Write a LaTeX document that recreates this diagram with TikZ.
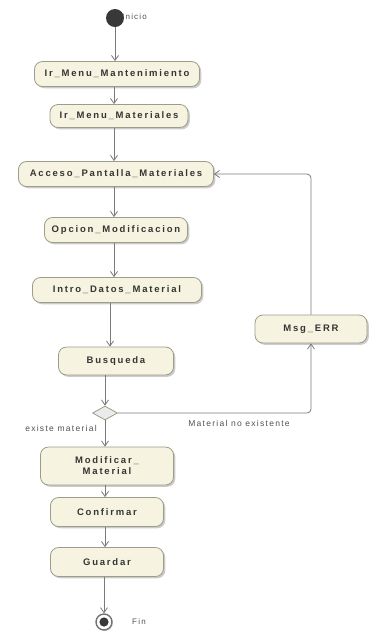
\documentclass[tikz,border=0pt]{standalone}
\usepackage{fontspec}
\setmainfont{Liberation Sans}
\newfontfamily\actfont[LetterSpace=19]{Liberation Sans}
\newfontfamily\lblfont[LetterSpace=15]{Liberation Sans}
\usetikzlibrary{arrows.meta,shapes.geometric,shadows}

\definecolor{actfill}{HTML}{F6F4E0}
\definecolor{actline}{HTML}{9C9C8A}
\definecolor{flowline}{HTML}{7A7A7A}
\definecolor{txt}{HTML}{353535}
\definecolor{lbl}{HTML}{505050}
\definecolor{dotfill}{HTML}{383838}

\tikzset{
  action/.style={rectangle, rounded corners=8pt, draw=actline, line width=0.8pt,
    fill=actfill, text=txt, font=\actfont\bfseries\fontsize{9.5}{11}\selectfont,
    inner sep=2pt, align=center,
    drop shadow={shadow xshift=1.8pt, shadow yshift=-1.8pt, fill=black!45, opacity=0.45}},
  flow/.style={draw=flowline, line width=0.8pt,
    -{Straight Barb[length=5pt,width=7pt]}},
  guard/.style={text=lbl, font=\lblfont\fontsize{8.5}{10}\selectfont, inner sep=0pt},
  pin/.style={text=lbl, font=\lblfont\fontsize{8}{9}\selectfont, inner sep=0pt}
}

\begin{document}
\begin{tikzpicture}[x=1pt,y=-1pt]
  \useasboundingbox (0,0) rectangle (373,633);

  % columns used by the vertical connectors
  \coordinate (colA) at (114,0);
  \coordinate (colM) at (110,0);
  \coordinate (colB) at (105,0);

  % initial node
  \node[pin, anchor=west] (inicioLbl) at (122,17) {Inicio};
  \node[circle, fill=dotfill, minimum size=18pt, inner sep=0pt] (start) at (115,18) {};

  % activities
  \node[action, minimum width=165pt, minimum height=25pt] (mant) at (117,74) {Ir\_Menu\_Mantenimiento};
  \node[action, minimum width=138pt, minimum height=23pt] (matmenu) at (119,116) {Ir\_Menu\_Materiales};
  \node[action, minimum width=195pt, minimum height=25pt] (acceso) at (116,174) {Acceso\_Pantalla\_Materiales};
  \node[action, minimum width=143pt, minimum height=25pt] (opcion) at (116,230) {Opcion\_Modificacion};
  \node[action, minimum width=169pt, minimum height=25pt] (intro) at (117,290) {Intro\_Datos\_Material};
  \node[action, minimum width=115pt, minimum height=28pt] (busq) at (116,361) {Busqueda};
  \node[action, minimum width=112pt, minimum height=28pt] (msg) at (311,329) {Msg\_ERR};
  \node[action, minimum width=133pt, minimum height=38pt] (modif) at (107,466) {Modificar\_\\Material};
  \node[action, minimum width=113pt, minimum height=29pt] (conf) at (107,512) {Confirmar};
  \node[action, minimum width=113pt, minimum height=29pt] (guard) at (107,562) {Guardar};

  % decision
  \node[diamond, draw=actline, fill=black!8, line width=0.8pt, minimum width=25pt,
        minimum height=14pt, inner sep=0pt] (dec) at (105,413) {};

  % final node
  \node[circle, draw=black!55, fill=white, line width=1.4pt, minimum size=16pt, inner sep=0pt,
        drop shadow={shadow xshift=1pt, shadow yshift=-1pt, fill=black!40, opacity=0.4}] (fin) at (104,622) {};
  \fill[dotfill] (fin.center) circle (4.6pt);
  \node[pin, anchor=west] (finLbl) at (132,622) {Fin};

  % control flow
  \draw[flow] (start) -- (mant.north -| start);
  \draw[flow] (mant.south -| colA) -- (matmenu.north -| colA);
  \draw[flow] (matmenu.south -| colA) -- (acceso.north -| colA);
  \draw[flow] (acceso.south -| colA) -- (opcion.north -| colA);
  \draw[flow] (opcion.south -| colA) -- (intro.north -| colA);
  \draw[flow] (intro.south -| colM) -- (busq.north -| colM);
  \draw[flow] (busq.south -| dec) -- (dec.north);
  \draw[flow] (dec.south) -- (modif.north -| dec);
  \draw[flow] (modif.south -| colB) -- (conf.north -| colB);
  \draw[flow] (conf.south -| colB) -- (guard.north -| colB);
  \draw[flow] (guard.south -| fin) -- (fin.north);

  % error branch and loop back
  \draw[flow, rounded corners=4pt] (dec.east) -| (msg.south);
  \draw[flow, rounded corners=4pt] (msg.north) |- (acceso.east);

  % guards
  \node[guard] (gNo) at (239,423) {Material no existente};
  \node[guard] (gSi) at (61,428) {existe material};
\end{tikzpicture}
\end{document}
